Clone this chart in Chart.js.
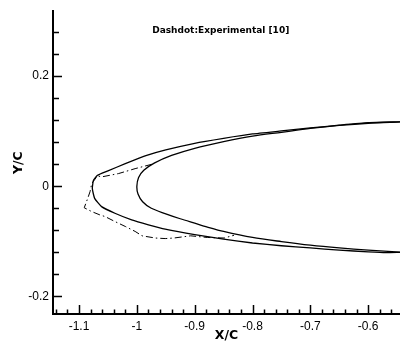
<!DOCTYPE html>
<html>
<head>
<meta charset="utf-8">
<script src="https://cdn.jsdelivr.net/npm/chart.js@4/dist/chart.umd.min.js"></script>
<style>
  html, body { margin: 0; padding: 0; background: #fff; }
  #wrap { width: 400px; height: 345px; }
</style>
</head>
<body>
<div id="wrap"><canvas id="shape"></canvas></div>
<script>
// ==================== DATA ====================
// outer solid line, upper right -> nose -> lower right
const outerX = [-0.545, -0.6, -0.65, -0.7, -0.75, -0.8, -0.85, -0.9, -0.95, -0.983, -1.02, -1.05, -1.068,
                -1.075, -1.077, -1.073, -1.061, -1.038, -1.009, -0.98, -0.951, -0.9, -0.85, -0.8,
                -0.75, -0.7, -0.65, -0.6, -0.57, -0.545];
const outerY = [0.117, 0.1155, 0.111, 0.106, 0.1005, 0.095, 0.087, 0.078, 0.066, 0.056, 0.041, 0.028, 0.020,
                0.011, -0.004, -0.022, -0.037, -0.049, -0.061, -0.070, -0.078, -0.088, -0.096, -0.103,
                -0.108, -0.112, -0.116, -0.119, -0.1205, -0.120];

// inner body, solid
const bodyX = [-0.545, -0.6, -0.65, -0.7, -0.75, -0.8, -0.85, -0.9, -0.94, -0.97, -0.988, -0.997, -1.0,
               -0.998, -0.99, -0.975, -0.95, -0.925, -0.9, -0.878, -0.85, -0.8, -0.75, -0.7, -0.65, -0.6, -0.545];
const bodyY = [0.117, 0.1145, 0.1105, 0.105, 0.098, 0.091, 0.081, 0.069, 0.056, 0.042, 0.029, 0.016, 0.0,
               -0.014, -0.028, -0.040, -0.050, -0.059, -0.067, -0.074, -0.082, -0.093, -0.1005, -0.107, -0.112, -0.116, -0.1195];

// dashdot: experimental [10]
const expX = [-0.974, -1.003, -1.032, -1.061, -1.068, -1.078, -1.081, -1.085, -1.091, -1.078, -1.064,
              -1.055, -1.038, -1.02, -1.003, -0.991, -0.968, -0.951, -0.936, -0.907, -0.878, -0.849, -0.832];
const expY = [0.040, 0.032, 0.023, 0.017, 0.019, 0.005, -0.010, -0.022, -0.039, -0.046, -0.052,
              -0.055, -0.064, -0.073, -0.082, -0.090, -0.094, -0.095, -0.094, -0.090, -0.093, -0.094, -0.089];

// tick labels
const xTicks = [-1.1, -1.0, -0.9, -0.8, -0.7, -0.6];
const yTicks = [-0.2, 0, 0.2];
const xMinorStep = 0.02;
const yMinorStep = 0.04;

const noteText = 'Dashdot:Experimental [10]';

function toPoints(xs, ys) {
    return xs.map((x, i) => ({ x: x, y: ys[i] }));
}

function fmt(v) {
    if (Math.abs(v) < 1e-9) return '0';
    return String(Math.round(v * 10) / 10);
}

// inward tick marks + note text
const innerTicks = {
    id: 'innerTicks',
    afterDraw(chart) {
        const ctx = chart.ctx;
        const xs = chart.scales.x, ys = chart.scales.y;
        const area = chart.chartArea;
        ctx.save();
        ctx.strokeStyle = '#000';
        ctx.lineWidth = 1.5;
        ctx.beginPath();
        // x axis
        const xStart = Math.ceil(xs.min / xMinorStep - 1e-6);
        const xEnd = Math.floor(xs.max / xMinorStep + 1e-6);
        for (let k = xStart; k <= xEnd; k++) {
            const v = k * xMinorStep;
            const major = k % 5 === 0;
            const px = Math.round(xs.getPixelForValue(v)) + 0.5;
            ctx.moveTo(px, area.bottom);
            ctx.lineTo(px, area.bottom - (major ? 9 : 4.5));
        }
        // y axis
        const yStart = Math.ceil(ys.min / yMinorStep - 1e-6);
        const yEnd = Math.floor(ys.max / yMinorStep + 1e-6);
        for (let k = yStart; k <= yEnd; k++) {
            const v = k * yMinorStep;
            const major = k % 5 === 0;
            const py = Math.round(ys.getPixelForValue(v)) + 0.5;
            ctx.moveTo(area.left, py);
            ctx.lineTo(area.left + (major ? 9 : 6), py);
        }
        ctx.stroke();

        ctx.fillStyle = '#000';
        ctx.font = 'bold 9px "DejaVu Sans"';
        ctx.textAlign = 'center';
        ctx.textBaseline = 'middle';
        ctx.fillText(noteText, xs.getPixelForValue(-0.855), ys.getPixelForValue(0.282));
        ctx.restore();
    }
};

document.addEventListener('DOMContentLoaded', function() {
    const ctx = document.getElementById('shape').getContext('2d');
    new Chart(ctx, {
        type: 'scatter',
        data: {
            datasets: [
                {
                    label: 'Body',
                    data: toPoints(bodyX, bodyY),
                    showLine: true,
                    borderColor: '#000',
                    borderWidth: 1.3,
                    pointRadius: 0,
                    tension: 0.3
                },
                {
                    label: 'Outer',
                    data: toPoints(outerX, outerY),
                    showLine: true,
                    borderColor: '#000',
                    borderWidth: 1.3,
                    pointRadius: 0,
                    tension: 0.15
                },
                {
                    label: 'Experimental [10]',
                    data: toPoints(expX, expY),
                    showLine: true,
                    borderColor: '#000',
                    borderWidth: 1,
                    borderDash: [7, 3, 1.5, 3],
                    pointRadius: 0,
                    tension: 0
                }
            ]
        },
        options: {
            responsive: true,
            maintainAspectRatio: false,
            animation: false,
            layout: { padding: { top: 7, right: 0, left: 0, bottom: 0 } },
            plugins: {
                legend: { display: false },
                tooltip: { enabled: false }
            },
            scales: {
                x: {
                    type: 'linear',
                    min: -1.145,
                    max: -0.545,
                    afterBuildTicks: (scale) => { scale.ticks = xTicks.map(v => ({ value: v })); },
                    afterFit: (scale) => { scale.height = 31; },
                    grid: { display: true, drawOnChartArea: false, drawTicks: false },
                    border: { display: true, color: '#000', width: 2 },
                    ticks: {
                        color: '#000',
                        padding: 5,
                        maxRotation: 0,
                        font: { family: 'Liberation Sans', size: 12 },
                        callback: (v) => fmt(v)
                    },
                    title: {
                        display: true,
                        text: 'X/C',
                        color: '#000',
                        font: { family: 'DejaVu Sans', size: 12.5, weight: 'bold' },
                        padding: { top: 0, bottom: 2 }
                    }
                },
                y: {
                    type: 'linear',
                    min: -0.232,
                    max: 0.318,
                    afterBuildTicks: (scale) => { scale.ticks = yTicks.map(v => ({ value: v })); },
                    afterFit: (scale) => { scale.width = 53; },
                    grid: { display: true, drawOnChartArea: false, drawTicks: false },
                    border: { display: true, color: '#000', width: 2 },
                    ticks: {
                        color: '#000',
                        padding: 4,
                        font: { family: 'Liberation Sans', size: 12 },
                        callback: (v) => fmt(v)
                    },
                    title: {
                        display: true,
                        text: 'Y/C',
                        color: '#000',
                        font: { family: 'DejaVu Sans', size: 12.5, weight: 'bold' },
                        padding: { top: 11.5, bottom: 0 }
                    }
                }
            }
        },
        plugins: [innerTicks]
    });
});
</script>
</body>
</html>
